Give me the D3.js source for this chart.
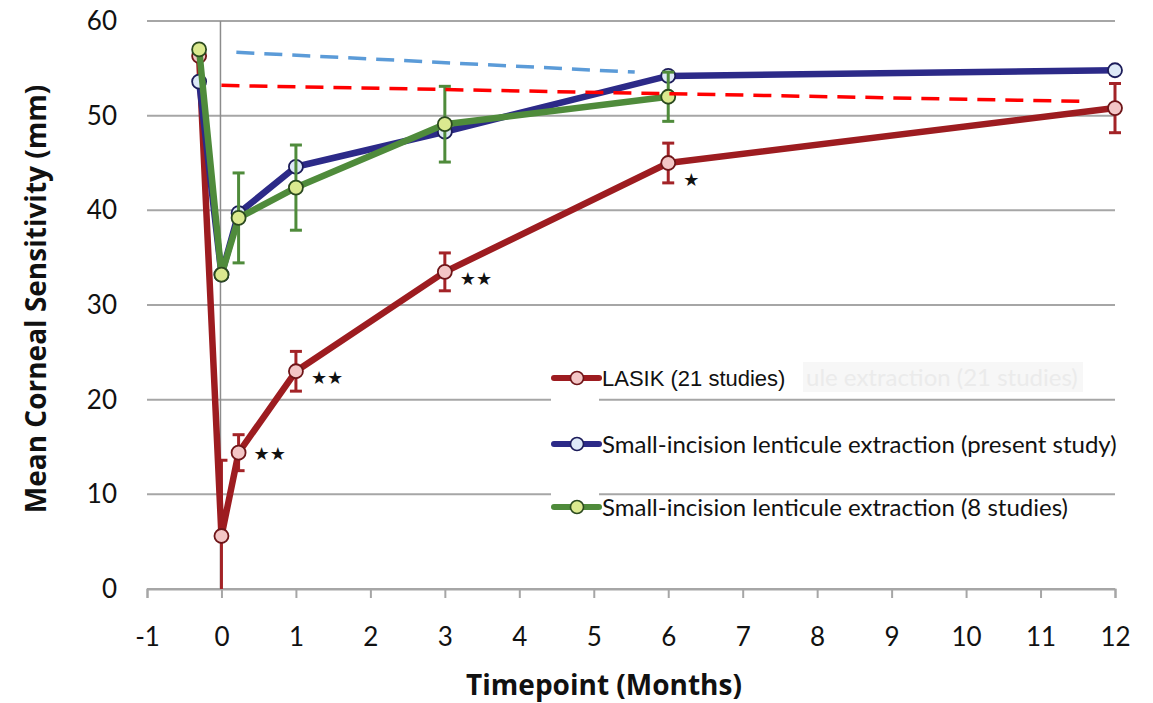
<!DOCTYPE html>
<html>
<head>
<meta charset="utf-8">
<script src="https://cdn.jsdelivr.net/npm/d3@7"></script>
<style>
  body { margin: 0; background: #fff; }
  svg { display: block; }
</style>
</head>
<body>
<div id="vis"></div>
<script>
// values
const xTicks = [-1, 0, 1, 2, 3, 4, 5, 6, 7, 8, 9, 10, 11, 12];
const yTicks = [0, 10, 20, 30, 40, 50, 60];

const lasikMonths = [-0.3, 0, 0.23, 1, 3, 6, 12];
const lasikMean   = [56.3, 5.6, 14.4, 23.0, 33.5, 45.0, 50.8];
const lasikErr    = [null, 8.0, 1.9, 2.1, 2.0, 2.1, 2.6];

const presentMonths = [-0.3, 0, 0.23, 1, 3, 6, 12];
const presentMean   = [53.6, 33.2, 39.7, 44.6, 48.3, 54.2, 54.8];

const smileMonths = [-0.3, 0, 0.23, 1, 3, 6];
const smileMean   = [57.0, 33.2, 39.2, 42.4, 49.1, 52.0];
const smileErr    = [null, null, 4.75, 4.5, 4.0, 2.6];

const blueDash = [[0.2, 56.7], [5.55, 54.6]];
const redDash  = [[0, 53.2], [11.6, 51.5]];

// significance marks next to LASIK points
const starMonths = [0.23, 1, 3, 6];
const starText   = ["★★", "★★", "★★", "★"];

const legendLabels = [
  "LASIK (21 studies)",
  "Small-incision lenticule extraction (present study)",
  "Small-incision lenticule extraction (8 studies)"
];

const width = 1153, height = 703;

const svg = d3.select("#vis").append("svg")
    .attr("width", width)
    .attr("height", height);

const x = d3.scaleLinear().domain([-1, 12]).range([147, 1115]);
const y = d3.scaleLinear().domain([0, 60]).range([589, 21]);

const gridColor = "#a6a6a6";
const tickFont = "Lato, 'Open Sans', sans-serif";
const titleFont = "'Open Sans', Lato, sans-serif";

// gridlines
svg.append("g")
    .selectAll("line")
    .data(yTicks)
    .join("line")
    .attr("x1", x(-1))
    .attr("x2", x(12))
    .attr("y1", d => y(d))
    .attr("y2", d => y(d))
    .attr("stroke", gridColor)
    .attr("stroke-width", 2);

// vertical line at month 0
svg.append("line")
    .attr("x1", x(0) - 1).attr("x2", x(0) - 1)
    .attr("y1", y(60)).attr("y2", y(0))
    .attr("stroke", "#8c8c8c")
    .attr("stroke-width", 1.5);

// x axis
const xAxis = d3.axisBottom(x)
    .tickValues(xTicks)
    .tickSize(9)
    .tickPadding(30)
    .tickFormat(d => d);

const xg = svg.append("g")
    .attr("transform", `translate(0,${y(0)})`)
    .call(xAxis);
xg.select(".domain").attr("stroke", gridColor).attr("stroke-width", 2);
xg.selectAll(".tick line").attr("stroke", gridColor).attr("stroke-width", 2);
xg.selectAll(".tick text")
    .attr("fill", "#111")
    .style("font-family", tickFont)
    .style("font-size", "26px");

// y tick labels
svg.append("g")
    .selectAll("text")
    .data(yTicks)
    .join("text")
    .attr("x", 117)
    .attr("y", d => y(d))
    .attr("dy", "0.35em")
    .attr("text-anchor", "end")
    .attr("fill", "#111")
    .style("font-family", tickFont)
    .style("font-size", "26px")
    .text(d => d);

// axis titles
svg.append("text")
    .attr("transform", `translate(46,299) rotate(-90)`)
    .attr("text-anchor", "middle")
    .attr("fill", "#111")
    .style("font-family", titleFont)
    .style("font-weight", "bold")
    .style("font-size", "28px")
    .text("Mean Corneal Sensitivity (mm)");

svg.append("text")
    .attr("x", 604)
    .attr("y", 695)
    .attr("text-anchor", "middle")
    .attr("fill", "#111")
    .style("font-family", titleFont)
    .style("font-weight", "bold")
    .style("font-size", "28px")
    .text("Timepoint (Months)");

// legend background and ghost text
svg.append("rect")
    .attr("x", 551).attr("y", 365)
    .attr("width", 48).attr("height", 155)
    .attr("fill", "#fff");
svg.append("rect")
    .attr("x", 803).attr("y", 362)
    .attr("width", 280).attr("height", 30)
    .attr("fill", "#f7f7f7");
svg.append("text")
    .attr("x", 806).attr("y", 386)
    .attr("fill", "#ebebeb")
    .style("font-family", tickFont)
    .style("font-size", "24px")
    .text("ule extraction (21 studies)");

const series = [
  { months: lasikMonths, mean: lasikMean, err: lasikErr,
    line: "#9d1c20", fill: "#f3c6c6", edge: "#6e1518", errColor: "#a32327" },
  { months: presentMonths, mean: presentMean, err: null,
    line: "#2c2a88", fill: "#dde9f7", edge: "#1c1c5a", errColor: "#2c2a88" },
  { months: smileMonths, mean: smileMean, err: smileErr,
    line: "#4f8b3b", fill: "#dbe98f", edge: "#2b4a1f", errColor: "#4f8b3b" }
];

const line = d3.line()
    .x(d => x(d[0]))
    .y(d => y(d[1]));

series.forEach(s => {
    const pts = s.months.map((m, i) => [m, s.mean[i], s.err ? s.err[i] : null]);
    const g = svg.append("g");

    // error bars
    const eb = pts.filter(p => p[2] != null);
    eb.forEach(p => {
        const lo = Math.max(0, p[1] - p[2]);
        const hi = p[1] + p[2];
        g.append("line")
            .attr("x1", x(p[0])).attr("x2", x(p[0]))
            .attr("y1", y(lo)).attr("y2", y(hi))
            .attr("stroke", s.errColor)
            .attr("stroke-width", 3);
        g.append("line")
            .attr("x1", x(p[0]) - 6).attr("x2", x(p[0]) + 6)
            .attr("y1", y(hi)).attr("y2", y(hi))
            .attr("stroke", s.errColor)
            .attr("stroke-width", 3);
        if (p[1] - p[2] > 0) {
            g.append("line")
                .attr("x1", x(p[0]) - 6).attr("x2", x(p[0]) + 6)
                .attr("y1", y(lo)).attr("y2", y(lo))
                .attr("stroke", s.errColor)
                .attr("stroke-width", 3);
        }
    });

    g.append("path")
        .datum(pts)
        .attr("d", line)
        .attr("fill", "none")
        .attr("stroke", s.line)
        .attr("stroke-width", 6.5)
        .attr("stroke-linejoin", "round");

    g.selectAll("circle")
        .data(pts)
        .join("circle")
        .attr("cx", d => x(d[0]))
        .attr("cy", d => y(d[1]))
        .attr("r", 7)
        .attr("fill", s.fill)
        .attr("stroke", s.edge)
        .attr("stroke-width", 1.8);
});

// stars
svg.append("g")
    .selectAll("text")
    .data(starMonths)
    .join("text")
    .attr("x", d => x(d) + 15)
    .attr("y", (d, i) => y(lasikMean[lasikMonths.indexOf(d)]) + (i === 0 ? 7 : i === 3 ? 23 : 13))
    .attr("fill", "#111")
    .style("font-family", "'DejaVu Sans', sans-serif")
    .style("font-size", "18px")
    .text((d, i) => starText[i]);

// dashed reference lines
svg.append("path")
    .datum(blueDash)
    .attr("d", line)
    .attr("fill", "none")
    .attr("stroke", "#5b9bd8")
    .attr("stroke-width", 3.5)
    .attr("stroke-dasharray", "18,10");

svg.append("path")
    .datum(redDash)
    .attr("d", line)
    .attr("fill", "none")
    .attr("stroke", "#ff0000")
    .attr("stroke-width", 3.5)
    .attr("stroke-dasharray", "18,10");

// legend
const legendY = [378, 444, 507];
const legend = svg.append("g");
series.forEach((s, i) => {
    legend.append("line")
        .attr("x1", 554).attr("x2", 599)
        .attr("y1", legendY[i]).attr("y2", legendY[i])
        .attr("stroke", s.line)
        .attr("stroke-width", 6)
        .attr("stroke-linecap", "round");
    legend.append("circle")
        .attr("cx", 577).attr("cy", legendY[i])
        .attr("r", 6.5)
        .attr("fill", s.fill)
        .attr("stroke", s.edge)
        .attr("stroke-width", 1.6);
    legend.append("text")
        .attr("x", 602)
        .attr("y", legendY[i])
        .attr("dy", "0.36em")
        .attr("fill", "#111")
        .style("font-family", i === 0 ? "'Liberation Sans', Arial, sans-serif" : tickFont)
        .style("font-size", i === 0 ? "22px" : "24px")
        .text(legendLabels[i]);
});
</script>
</body>
</html>
